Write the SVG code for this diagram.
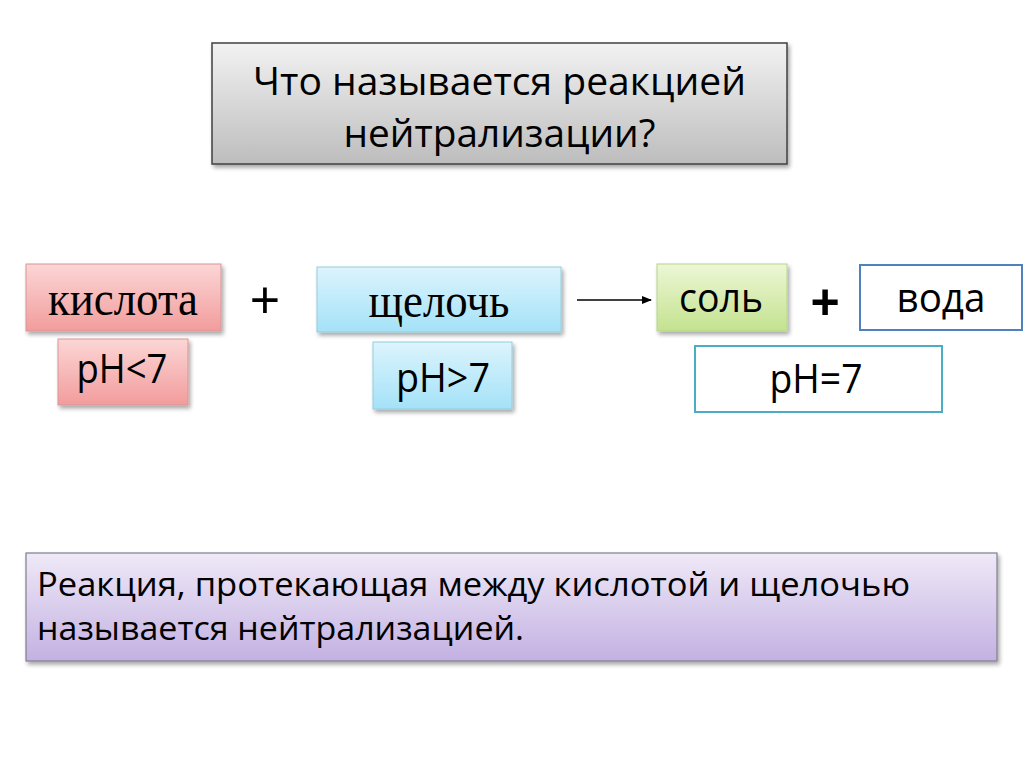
<svg xmlns="http://www.w3.org/2000/svg" width="1024" height="767" viewBox="0 0 1024 767">
  <defs>
    <linearGradient id="gGray" x1="0" y1="0" x2="0" y2="1">
      <stop offset="0" stop-color="#f2f2f2"/>
      <stop offset="1" stop-color="#bdbdbd"/>
    </linearGradient>
    <linearGradient id="gPink" x1="0" y1="0" x2="0" y2="1">
      <stop offset="0" stop-color="#fcd6d6"/>
      <stop offset="1" stop-color="#f29c9c"/>
    </linearGradient>
    <linearGradient id="gBlue" x1="0" y1="0" x2="0" y2="1">
      <stop offset="0" stop-color="#dcf4fd"/>
      <stop offset="1" stop-color="#a4e2f7"/>
    </linearGradient>
    <linearGradient id="gGreen" x1="0" y1="0" x2="0" y2="1">
      <stop offset="0" stop-color="#edf7d6"/>
      <stop offset="1" stop-color="#c4e28f"/>
    </linearGradient>
    <linearGradient id="gPurple" x1="0" y1="0" x2="0" y2="1">
      <stop offset="0" stop-color="#efe9f7"/>
      <stop offset="1" stop-color="#c3b1e2"/>
    </linearGradient>
    <filter id="sh" x="-10%" y="-10%" width="120%" height="130%">
      <feGaussianBlur in="SourceAlpha" stdDeviation="2"/>
      <feOffset dx="2" dy="3" result="b"/>
      <feComponentTransfer><feFuncA type="linear" slope="0.35"/></feComponentTransfer>
      <feMerge><feMergeNode/><feMergeNode in="SourceGraphic"/></feMerge>
    </filter>
    <marker id="arr" markerWidth="10" markerHeight="8" refX="9" refY="4" orient="auto" markerUnits="userSpaceOnUse">
      <path d="M0,0 L10,4 L0,8 Z" fill="#000"/>
    </marker>
    <style>
      .sans { font-family: "Open Sans", "Noto Sans", "Liberation Sans", sans-serif; fill: #000; }
      .serif { font-family: "Liberation Serif", "DejaVu Serif", serif; fill: #000; }
      .plus { font-family: "Liberation Sans", sans-serif; fill: #000; text-anchor: middle; }
    </style>
  </defs>
  <rect x="0" y="0" width="1024" height="767" fill="#ffffff"/>

  <g id="title">
    <rect x="212" y="43" width="575" height="121" fill="url(#gGray)" stroke="#404040" stroke-width="1.5" filter="url(#sh)"/>
    <text class="sans" x="499.5" y="95" font-size="38" text-anchor="middle" textLength="493" lengthAdjust="spacingAndGlyphs">Что называется реакцией</text>
    <text class="sans" x="499.5" y="147" font-size="38" text-anchor="middle" textLength="312" lengthAdjust="spacingAndGlyphs">нейтрализации?</text>
  </g>

  <g id="acid">
    <rect x="26" y="264" width="195" height="67" fill="url(#gPink)" stroke="#d99594" stroke-width="1" filter="url(#sh)"/>
    <text class="serif" x="123" y="315" font-size="48" text-anchor="middle" textLength="150" lengthAdjust="spacingAndGlyphs">кислота</text>
  </g>
  <g id="acid-ph">
    <rect x="58" y="339" width="130" height="66" fill="url(#gPink)" stroke="#d99594" stroke-width="1" filter="url(#sh)"/>
    <text class="sans" x="122" y="383" font-size="40" text-anchor="middle" textLength="91" lengthAdjust="spacingAndGlyphs">pH&lt;7</text>
  </g>

  <text class="plus" x="265" y="318" font-size="52">+</text>

  <g id="alkali">
    <rect x="317" y="267" width="244" height="65" fill="url(#gBlue)" stroke="#93cddd" stroke-width="1" filter="url(#sh)"/>
    <text class="serif" x="439" y="317" font-size="48" text-anchor="middle" textLength="141" lengthAdjust="spacingAndGlyphs">щелочь</text>
  </g>
  <g id="alkali-ph">
    <rect x="373" y="342" width="139" height="67" fill="url(#gBlue)" stroke="#93cddd" stroke-width="1" filter="url(#sh)"/>
    <text class="sans" x="443" y="392" font-size="40" text-anchor="middle" textLength="94" lengthAdjust="spacingAndGlyphs">pH&gt;7</text>
  </g>

  <g id="connectors">
    <line x1="577" y1="300" x2="651" y2="300" stroke="#000" stroke-width="1.5" marker-end="url(#arr)"/>
  </g>

  <g id="salt">
    <rect x="657" y="264" width="130" height="67" fill="url(#gGreen)" stroke="#b6d68c" stroke-width="1" filter="url(#sh)"/>
    <text class="sans" x="721" y="312" font-size="40" text-anchor="middle" textLength="84" lengthAdjust="spacingAndGlyphs">соль</text>
  </g>

  <text class="plus" x="825" y="319" font-size="50" font-weight="bold">+</text>

  <g id="water">
    <rect x="860" y="265" width="162" height="65" fill="#ffffff" stroke="#4f81bd" stroke-width="2"/>
    <text class="sans" x="941" y="312" font-size="40" text-anchor="middle" textLength="89" lengthAdjust="spacingAndGlyphs">вода</text>
  </g>

  <g id="neutral-ph">
    <rect x="695" y="346" width="247" height="66" fill="#ffffff" stroke="#4bacc6" stroke-width="2"/>
    <text class="sans" x="816" y="393" font-size="40" text-anchor="middle" textLength="93" lengthAdjust="spacingAndGlyphs">pH=7</text>
  </g>

  <g id="definition">
    <rect x="26" y="553" width="971" height="108" fill="url(#gPurple)" stroke="#7f7f8f" stroke-width="1.2" filter="url(#sh)"/>
    <text class="sans" x="37" y="596" font-size="33" textLength="873" lengthAdjust="spacingAndGlyphs">Реакция, протекающая между кислотой и щелочью</text>
    <text class="sans" x="37" y="640" font-size="33" textLength="487" lengthAdjust="spacingAndGlyphs">называется нейтрализацией.</text>
  </g>
</svg>
